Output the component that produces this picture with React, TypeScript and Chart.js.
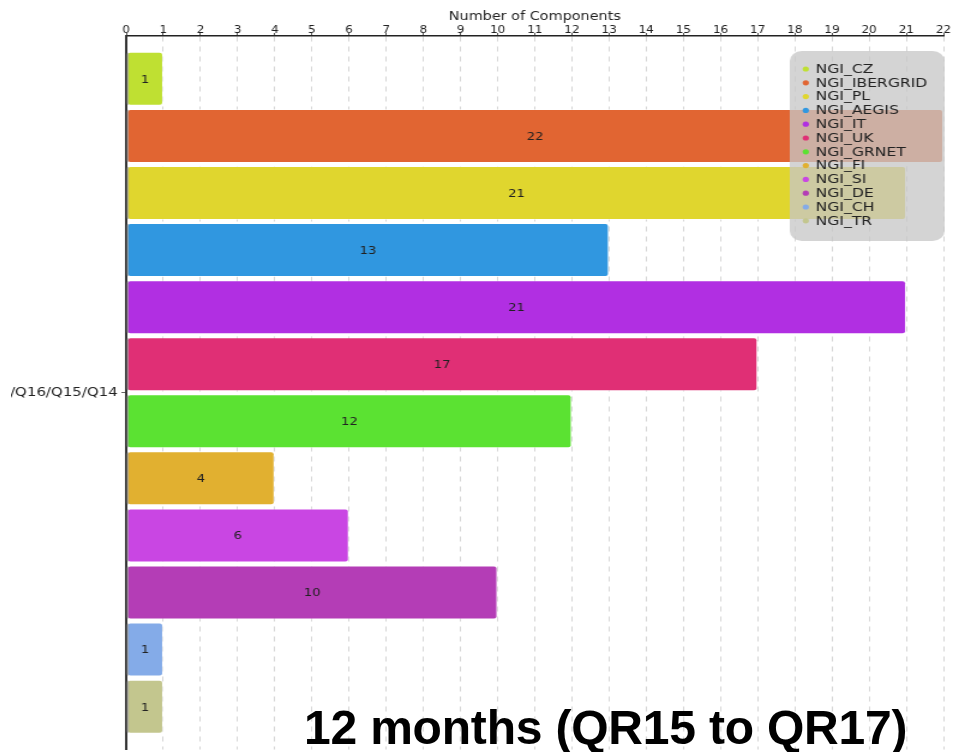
import React, { useEffect, useRef } from "react";
import { Chart, registerables } from "chart.js";

Chart.register(...registerables);

const categories = ["Q17/Q16/Q15/Q14"];
const seriesNames = [
  "NGI_CZ",
  "NGI_IBERGRID",
  "NGI_PL",
  "NGI_AEGIS",
  "NGI_IT",
  "NGI_UK",
  "NGI_GRNET",
  "NGI_FI",
  "NGI_SI",
  "NGI_DE",
  "NGI_CH",
  "NGI_TR",
];
const seriesValues = [1, 22, 21, 13, 21, 17, 12, 4, 6, 10, 1, 1];
const palette = [
  "#bfe032",
  "#e16532",
  "#e0d62e",
  "#3097e0",
  "#b12fe2",
  "#e02f75",
  "#5be232",
  "#e1b030",
  "#c946e3",
  "#b43db6",
  "#84abe8",
  "#c3c68e",
];
const axisTitle = "Number of Components";
const xMin = 0;
const xMax = 22;
const overlayText = "12 months (QR15 to QR17)";

const STRETCH = 1.2;
const CANVAS_LEFT = 11;
const CANVAS_W = 787;
const CANVAS_H = 760;
const Y_AXIS_W = 96;
const FONT = "'DejaVu Sans', Verdana, sans-serif";

const valueLabelPlugin = {
  id: "valueLabels",
  afterDatasetsDraw(chart: any) {
    const ctx = chart.ctx;
    ctx.save();
    ctx.font = `11px ${FONT}`;
    ctx.fillStyle = "#222";
    ctx.textAlign = "center";
    ctx.textBaseline = "middle";
    chart.data.datasets.forEach((ds: any, i: number) => {
      const meta = chart.getDatasetMeta(i);
      meta.data.forEach((bar: any, j: number) => {
        const v = ds.data[j];
        const cx = (bar.x + bar.base) / 2;
        ctx.fillText(String(v), cx, bar.y + 1);
      });
    });
    ctx.restore();
  },
};

const barShadowPlugin = {
  id: "barShadow",
  afterDatasetsDraw(chart: any) {
    const ctx = chart.ctx;
    ctx.save();
    ctx.fillStyle = "rgba(120,120,120,0.45)";
    chart.data.datasets.forEach((_ds: any, i: number) => {
      const meta = chart.getDatasetMeta(i);
      meta.data.forEach((bar: any) => {
        const h = bar.height;
        ctx.fillRect(bar.base, bar.y - h / 2 + 1, 1.6, h - 2);
      });
    });
    ctx.restore();
  },
};

const floatingLegendPlugin = {
  id: "floatingLegend",
  afterDraw(chart: any) {
    const ctx = chart.ctx;
    const area = chart.chartArea;
    const w = 129;
    const h = 190;
    const right = area.right + 1;
    const left = right - w;
    const top = area.top + 15;
    ctx.save();
    ctx.fillStyle = "rgba(198,198,198,0.76)";
    ctx.beginPath();
    if ((ctx as any).roundRect) {
      (ctx as any).roundRect(left, top, w, h, 10);
    } else {
      ctx.rect(left, top, w, h);
    }
    ctx.fill();
    ctx.font = `13px ${FONT}`;
    ctx.textAlign = "left";
    ctx.textBaseline = "middle";
    chart.data.datasets.forEach((ds: any, i: number) => {
      const y = top + 18 + i * 13.8;
      ctx.fillStyle = ds.backgroundColor;
      ctx.beginPath();
      ctx.arc(left + 13.3, y, 2.6, 0, Math.PI * 2);
      ctx.fill();
      ctx.fillStyle = "#222";
      ctx.fillText(ds.label, left + 21.5, y + 0.5);
    });
    ctx.restore();
  },
};

export default function App() {
  const canvasRef = useRef<HTMLCanvasElement | null>(null);

  useEffect(() => {
    if (!canvasRef.current) return;
    const datasets = seriesNames.map((name, i) => ({
      label: name,
      data: [seriesValues[i]],
      backgroundColor: palette[i],
      borderColor: "rgba(255,255,255,0.55)",
      borderWidth: 1,
      borderRadius: 3,
      borderSkipped: false,
      categoryPercentage: 0.96,
      barPercentage: 0.946,
    }));
    const chart = new Chart(canvasRef.current, {
      type: "bar",
      data: { labels: categories, datasets },
      options: {
        indexAxis: "y",
        animation: false,
        responsive: false,
        devicePixelRatio: 1,
        layout: { padding: { top: 0, right: 10, bottom: 0, left: 0 } },
        plugins: {
          legend: { display: false },
          tooltip: { enabled: false },
        },
        scales: {
          x: {
            position: "top",
            min: xMin,
            max: xMax,
            afterFit: (s: any) => {
              s.height = 36;
            },
            ticks: {
              stepSize: 1,
              autoSkip: false,
              maxRotation: 0,
              padding: -3,
              color: "#222",
              font: { family: FONT, size: 10 },
            },
            grid: {
              color: "#d6d6d6",
              lineWidth: 1,
              drawTicks: true,
              tickLength: 3,
              tickColor: "#555",
            },
            border: { display: true, color: "#222", width: 1.5, dash: [5, 5] },
            title: {
              display: true,
              text: axisTitle,
              color: "#222",
              font: { family: FONT, size: 12 },
              padding: { top: 10, bottom: 0 },
            },
          },
          y: {
            afterFit: (s: any) => {
              s.width = Y_AXIS_W;
            },
            ticks: {
              padding: 3,
              color: "#222",
              font: { family: FONT, size: 12.5 },
            },
            grid: {
              offset: false,
              drawOnChartArea: false,
              drawTicks: true,
              tickLength: 4,
              tickColor: "#666",
              color: "#666",
            },
            border: { display: true, color: "#333", width: 2 },
          },
        },
      },
      plugins: [barShadowPlugin, valueLabelPlugin, floatingLegendPlugin],
    } as any);
    return () => chart.destroy();
  }, []);

  return (
    <div
      style={{
        position: "absolute",
        left: 0,
        top: 0,
        width: 953,
        height: 752,
        overflow: "hidden",
        background: "#fff",
      }}
    >
      <div
        style={{
          position: "absolute",
          left: CANVAS_LEFT,
          top: 0,
          width: CANVAS_W,
          height: CANVAS_H,
          transform: `scaleX(${STRETCH})`,
          transformOrigin: "0 0",
        }}
      >
        <canvas ref={canvasRef} width={CANVAS_W} height={CANVAS_H} />
      </div>
      <div
        style={{
          position: "absolute",
          left: 304,
          top: 704,
          fontFamily: "'Liberation Sans', Arial, sans-serif",
          fontWeight: "bold",
          fontSize: 48,
          lineHeight: "48px",
          letterSpacing: "-0.2px",
          color: "#000",
          whiteSpace: "nowrap",
          pointerEvents: "none",
        }}
      >
        {overlayText}
      </div>
    </div>
  );
}
